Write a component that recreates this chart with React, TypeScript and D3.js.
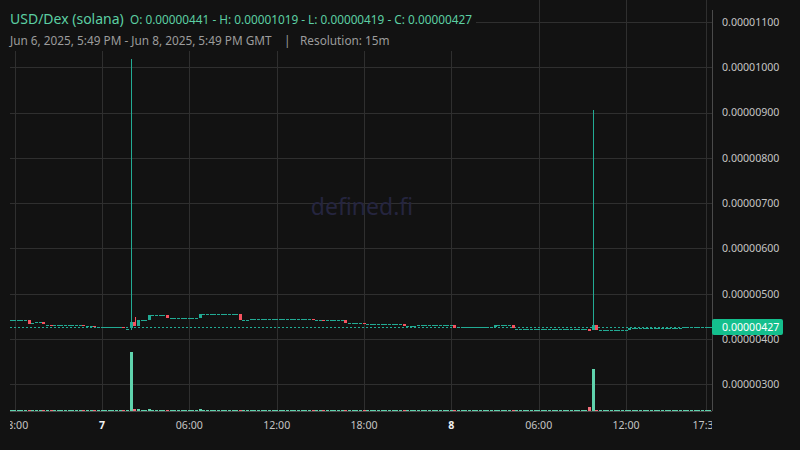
import * as d3 from 'd3';
import { useEffect, useRef } from 'react';

// 15m candles, Jun 6 17:45 GMT -> Jun 8 17:45 GMT, prices in 1e-8 USD
const candleStart = Date.UTC(2025, 5, 6, 17, 45);
const candleStep = 15 * 60 * 1000;

const closes = [
    441, 441, 441, 441, 441, 433, 435, 437, 437, 432,
    432, 431, 431, 431, 431, 431, 431, 431, 431, 431,
    429, 429, 429, 426, 426, 426, 426, 426, 426, 426,
    426, 423, 423, 437, 429, 442, 442, 442, 453, 453,
    453, 453, 453, 446, 446, 446, 446, 446, 446, 446,
    446, 446, 455, 455, 455, 455, 455, 455, 455, 455,
    455, 455, 455, 441, 441, 441, 444, 444, 444, 444,
    444, 444, 444, 444, 444, 444, 444, 444, 444, 444,
    444, 444, 444, 443, 443, 443, 441, 441, 441, 441,
    441, 442, 436, 436, 436, 436, 436, 434, 434, 434,
    434, 434, 434, 434, 434, 434, 434, 434, 429, 429,
    429, 429, 432, 432, 432, 432, 432, 432, 432, 432,
    432, 432, 426, 426, 426, 426, 426, 426, 426, 426,
    426, 426, 426, 430, 430, 430, 430, 430, 423, 423,
    423, 423, 423, 423, 423, 423, 423, 423, 423, 423,
    423, 423, 423, 423, 423, 423, 423, 423, 423, 419,
    431, 419, 419, 419, 419, 419, 419, 419, 419, 419,
    424, 424, 424, 424, 424, 424, 424, 424, 424, 424,
    424, 424, 424, 424, 424, 427, 427, 427, 427, 427,
    427, 427, 427,
];
const firstOpen = 441;

// wicks that reach past the body
const wickHighs: [number, number][] = [[33, 1019], [34, 448], [160, 905]];
const wickLows: [number, number][] = [[33, 419]];

const volumes = [
    100, 100, 100, 100, 100, 100, 100, 100, 100, 100,
    100, 100, 100, 100, 100, 100, 100, 100, 100, 100,
    100, 100, 100, 100, 100, 100, 100, 100, 100, 100,
    100, 100, 100, 6000, 200, 200, 100, 100, 200, 100,
    100, 100, 100, 100, 100, 100, 100, 100, 100, 100,
    100, 100, 200, 100, 100, 100, 100, 100, 100, 100,
    100, 100, 100, 100, 100, 100, 100, 100, 100, 100,
    100, 100, 100, 100, 100, 100, 100, 100, 100, 100,
    100, 100, 100, 100, 100, 100, 100, 100, 100, 100,
    100, 100, 100, 100, 100, 100, 100, 100, 100, 100,
    100, 100, 100, 100, 100, 100, 100, 100, 100, 100,
    100, 100, 100, 100, 100, 100, 100, 100, 100, 100,
    100, 100, 100, 100, 100, 100, 100, 100, 100, 100,
    100, 100, 100, 100, 100, 100, 100, 100, 100, 100,
    100, 100, 100, 100, 100, 100, 100, 100, 100, 100,
    100, 100, 100, 100, 100, 100, 100, 100, 100, 400,
    4300, 100, 100, 100, 100, 100, 100, 100, 100, 100,
    100, 100, 100, 100, 100, 100, 100, 100, 100, 100,
    100, 100, 100, 100, 100, 100, 100, 100, 100, 100,
    100, 100, 100,
];

const priceTicks = [0.000003, 0.000004, 0.000005, 0.000006, 0.000007, 0.000008, 0.000009, 0.00001, 0.000011];

const timeTicks = [
    Date.UTC(2025, 5, 6, 18),
    Date.UTC(2025, 5, 7, 0),
    Date.UTC(2025, 5, 7, 6),
    Date.UTC(2025, 5, 7, 12),
    Date.UTC(2025, 5, 7, 18),
    Date.UTC(2025, 5, 8, 0),
    Date.UTC(2025, 5, 8, 6),
    Date.UTC(2025, 5, 8, 12),
    Date.UTC(2025, 5, 8, 17, 30),
];
const timeLabels = ['18:00', '7', '06:00', '12:00', '18:00', '8', '06:00', '12:00', '17:30'];

const lastPrice = 427;

export default function App() {
    const ref = useRef<SVGSVGElement | null>(null);

    useEffect(() => {
        if (!ref.current) return;
        const svg = d3.select(ref.current);
        svg.selectAll('*').remove();

        const width = 800;
        const height = 450;
        const plot = { left: 10, right: 712, top: 0, bottom: 411 };
        const font = '"Noto Sans", sans-serif';
        const bg = '#121212';
        const up = '#22ab94';
        const down = '#f7525f';
        const teal = '#5ccfa3';

        const candles = closes.map((c, i) => {
            const o = i === 0 ? firstOpen : closes[i - 1];
            const hi = wickHighs.find((w) => w[0] === i);
            const lo = wickLows.find((w) => w[0] === i);
            return {
                t: candleStart + i * candleStep,
                o: o * 1e-8,
                c: c * 1e-8,
                h: (hi ? hi[1] : Math.max(o, c)) * 1e-8,
                l: (lo ? lo[1] : Math.min(o, c)) * 1e-8,
                v: volumes[i],
            };
        });

        const x = d3
            .scaleUtc()
            .domain([Date.UTC(2025, 5, 7, 0), Date.UTC(2025, 5, 8, 12)])
            .range([102, 626]);
        const y = d3.scaleLinear().domain([0.000004, 0.000011]).range([339, 22]);
        const yVol = d3.scaleLinear().domain([0, 10000]).range([plot.bottom, plot.bottom - 98]);

        svg.attr('viewBox', `0 0 ${width} ${height}`);
        svg.append('rect').attr('width', width).attr('height', height).attr('fill', bg);

        const defs = svg.append('defs');
        defs.append('clipPath')
            .attr('id', 'plot-clip')
            .append('rect')
            .attr('x', plot.left)
            .attr('y', plot.top)
            .attr('width', plot.right - plot.left)
            .attr('height', plot.bottom - plot.top);

        const area = svg.append('g').attr('clip-path', 'url(#plot-clip)');

        // grid
        area.append('g')
            .selectAll('line')
            .data(priceTicks)
            .join('line')
            .attr('x1', plot.left)
            .attr('x2', plot.right)
            .attr('y1', (d) => Math.round(y(d)) + 0.5)
            .attr('y2', (d) => Math.round(y(d)) + 0.5)
            .attr('stroke', '#2f2f2f');
        area.append('g')
            .selectAll('line')
            .data(timeTicks)
            .join('line')
            .attr('x1', (d) => Math.round(x(d)) + 0.5)
            .attr('x2', (d) => Math.round(x(d)) + 0.5)
            .attr('y1', plot.top)
            .attr('y2', plot.bottom)
            .attr('stroke', '#2f2f2f');

        // watermark
        area.append('text')
            .attr('x', 362)
            .attr('y', 215)
            .attr('text-anchor', 'middle')
            .attr('font-family', font)
            .attr('font-size', 23)
            .attr('fill', '#25253f')
            .text('defined.fi');

        // volume
        area.append('g')
            .selectAll('rect')
            .data(candles)
            .join('rect')
            .attr('x', (d) => Math.round(x(d.t) - 1.5))
            .attr('width', 3)
            .attr('y', (d) => plot.bottom - Math.max(1, Math.round(plot.bottom - yVol(d.v))))
            .attr('height', (d) => Math.max(1, Math.round(plot.bottom - yVol(d.v))))
            .attr('fill', (d) => (d.c >= d.o ? '#5fd3ad' : '#ef6f7b'))
            .attr('shape-rendering', 'crispEdges');

        // last price line
        area.append('line')
            .attr('x1', plot.left)
            .attr('x2', plot.right)
            .attr('y1', Math.round(y(lastPrice * 1e-8)) + 0.5)
            .attr('y2', Math.round(y(lastPrice * 1e-8)) + 0.5)
            .attr('stroke', up)
            .attr('stroke-dasharray', '2,2');

        // wicks
        area.append('g')
            .selectAll('line')
            .data(candles.filter((d) => d.h > Math.max(d.o, d.c) || d.l < Math.min(d.o, d.c)))
            .join('line')
            .attr('x1', (d) => Math.round(x(d.t)) + 0.5)
            .attr('x2', (d) => Math.round(x(d.t)) + 0.5)
            .attr('y1', (d) => Math.round(y(d.h)))
            .attr('y2', (d) => Math.round(y(d.l)))
            .attr('stroke', (d) => (d.c >= d.o ? up : down));

        // bodies
        area.append('g')
            .selectAll('rect')
            .data(candles)
            .join('rect')
            .attr('x', (d) => Math.round(x(d.t) - 1.5))
            .attr('width', 3)
            .attr('y', (d) => Math.round(y(Math.max(d.o, d.c))))
            .attr('height', (d) => Math.max(1, Math.round(y(Math.min(d.o, d.c)) - y(Math.max(d.o, d.c)))))
            .attr('fill', (d) => (d.c >= d.o ? up : down))
            .attr('shape-rendering', 'crispEdges');

        // axis borders
        svg.append('line')
            .attr('x1', plot.right + 0.5)
            .attr('x2', plot.right + 0.5)
            .attr('y1', 10)
            .attr('y2', plot.bottom)
            .attr('stroke', '#4a4a4a');
        svg.append('line')
            .attr('x1', plot.left)
            .attr('x2', plot.right)
            .attr('y1', plot.bottom + 0.5)
            .attr('y2', plot.bottom + 0.5)
            .attr('stroke', '#4a4a4a');

        // price axis
        const yAxis = svg
            .append('g')
            .attr('transform', `translate(${plot.right},0)`)
            .call(d3.axisRight(y).tickValues(priceTicks).tickFormat(d3.format('.8f')).tickSize(0).tickPadding(10));
        yAxis.select('.domain').remove();
        yAxis.selectAll('text').attr('fill', '#c4c4c4').style('font-family', font).style('font-size', '10.6px');

        // time axis labels, clipped to plot width
        defs.append('clipPath')
            .attr('id', 'time-clip')
            .append('rect')
            .attr('x', plot.left)
            .attr('y', plot.bottom)
            .attr('width', plot.right - plot.left)
            .attr('height', height - plot.bottom);
        svg.append('g')
            .attr('clip-path', 'url(#time-clip)')
            .selectAll('text')
            .data(timeTicks)
            .join('text')
            .attr('x', (d) => x(d))
            .attr('y', 429)
            .attr('text-anchor', 'middle')
            .attr('font-family', font)
            .attr('font-size', 10.6)
            .attr('font-weight', (_, i) => (timeLabels[i].length === 1 ? 700 : 400))
            .attr('fill', (_, i) => (timeLabels[i].length === 1 ? '#f0f0f0' : '#c4c4c4'))
            .text((_, i) => timeLabels[i]);

        // last price tag
        const py = y(lastPrice * 1e-8);
        svg.append('rect')
            .attr('x', plot.right)
            .attr('y', Math.round(py) - 8)
            .attr('width', 71)
            .attr('height', 16)
            .attr('rx', 2)
            .attr('fill', '#14bf8d');
        svg.append('text')
            .attr('x', plot.right + 10)
            .attr('y', py + 4)
            .attr('font-family', font)
            .attr('font-size', 10.6)
            .attr('fill', '#ffffff')
            .text(d3.format('.8f')(lastPrice * 1e-8));

        // header
        svg.append('rect').attr('x', 0).attr('y', 0).attr('width', 476).attr('height', 51).attr('fill', bg);
        svg.append('text')
            .attr('x', 10)
            .attr('y', 24)
            .attr('font-family', font)
            .attr('font-size', 14)
            .attr('fill', teal)
            .text('USD/Dex (solana)');
        svg.append('text')
            .attr('x', 130)
            .attr('y', 24)
            .attr('font-family', font)
            .attr('font-size', 11.8)
            .attr('fill', teal)
            .text('O: 0.00000441 - H: 0.00001019 - L: 0.00000419 - C: 0.00000427');
        const sub = svg.append('g').attr('font-family', font).attr('font-size', 11.8).attr('fill', '#9c9c9c');
        sub.append('text').attr('x', 10).attr('y', 45).text('Jun 6, 2025, 5:49 PM - Jun 8, 2025, 5:49 PM GMT');
        sub.append('text').attr('x', 284).attr('y', 45).text('|');
        sub.append('text').attr('x', 300).attr('y', 45).text('Resolution: 15m');
    }, []);

    return (
        <svg
            ref={ref}
            width={800}
            height={450}
            style={{ position: 'fixed', left: 0, top: 0, display: 'block' }}
        />
    );
}
